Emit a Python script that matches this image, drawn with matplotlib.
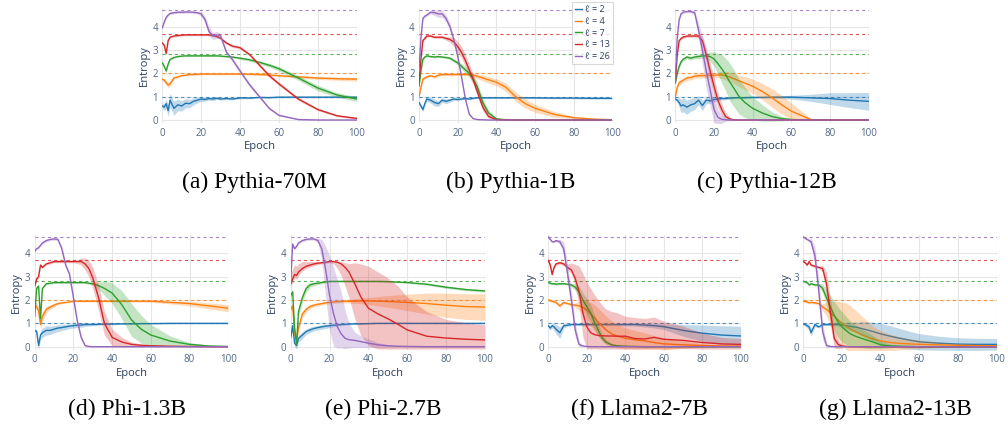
import numpy as np
import matplotlib
matplotlib.use('Agg')
import matplotlib.pyplot as plt

plt.rcParams['font.family'] = ['Open Sans', 'DejaVu Sans']

EPOCHS = [0, 1, 2, 3, 4, 6, 8, 10, 12, 14, 16, 18, 20, 22, 24, 26, 28, 30,
          33, 36, 40, 45, 50, 55, 60, 70, 80, 90, 100]
ELLS = [2, 4, 7, 13, 26]
# log2(l): entropy of a uniform guess
UNIFORM_ENTROPY = [1.00, 2.00, 2.81, 3.70, 4.70]
COLORS = ['#1f77b4', '#ff7f0e', '#2ca02c', '#d62728', '#9467bd']

# (a) Pythia-70M
P70M_MEAN = [
    [0.60, 0.55, 0.70, 0.40, 0.85, 0.50, 0.65, 0.60, 0.72, 0.70, 0.80, 0.85, 0.90, 0.88, 0.92, 0.90, 0.93, 0.90, 0.92, 0.90, 0.95, 0.94, 0.97, 0.96, 0.98, 0.98, 0.98, 0.98, 0.98],
    [1.75, 1.70, 1.60, 1.50, 1.55, 1.80, 1.85, 1.90, 1.92, 1.95, 1.95, 1.96, 1.97, 1.97, 1.97, 1.97, 1.97, 1.97, 1.97, 1.97, 1.97, 1.96, 1.95, 1.93, 1.90, 1.85, 1.80, 1.77, 1.75],
    [2.45, 2.30, 2.10, 2.40, 2.60, 2.68, 2.72, 2.74, 2.75, 2.75, 2.75, 2.75, 2.75, 2.75, 2.75, 2.75, 2.75, 2.74, 2.72, 2.70, 2.65, 2.58, 2.47, 2.35, 2.20, 1.80, 1.37, 1.07, 0.90],
    [3.30, 3.20, 2.85, 3.40, 3.55, 3.60, 3.62, 3.64, 3.65, 3.65, 3.65, 3.65, 3.65, 3.65, 3.65, 3.62, 3.58, 3.50, 3.30, 3.17, 3.10, 2.80, 2.35, 1.90, 1.55, 0.90, 0.45, 0.18, 0.07],
    [3.95, 4.20, 4.40, 4.50, 4.57, 4.60, 4.62, 4.62, 4.63, 4.63, 4.62, 4.60, 4.55, 4.30, 3.80, 3.60, 3.65, 3.60, 2.90, 2.60, 2.10, 1.50, 1.00, 0.50, 0.20, 0.02, 0.00, 0.00, 0.00],
]
P70M_SPREAD = [
    [0.10, 0.15, 0.20, 0.25, 0.30, 0.30, 0.25, 0.22, 0.20, 0.18, 0.15, 0.12, 0.10, 0.08, 0.07, 0.06, 0.05, 0.05, 0.05, 0.04, 0.04, 0.03, 0.03, 0.03, 0.03, 0.03, 0.03, 0.03, 0.03],
    [0.05, 0.08, 0.10, 0.12, 0.10, 0.06, 0.04, 0.03, 0.03, 0.03, 0.03, 0.03, 0.03, 0.03, 0.03, 0.03, 0.03, 0.03, 0.03, 0.03, 0.03, 0.03, 0.03, 0.03, 0.04, 0.05, 0.06, 0.07, 0.08],
    [0.04, 0.05, 0.06, 0.05, 0.04, 0.03, 0.03, 0.03, 0.03, 0.03, 0.03, 0.03, 0.03, 0.03, 0.03, 0.03, 0.03, 0.03, 0.04, 0.04, 0.05, 0.06, 0.07, 0.08, 0.09, 0.10, 0.12, 0.10, 0.10],
    [0.04, 0.05, 0.06, 0.05, 0.04, 0.04, 0.04, 0.04, 0.04, 0.04, 0.04, 0.04, 0.04, 0.04, 0.04, 0.04, 0.05, 0.05, 0.06, 0.06, 0.06, 0.06, 0.07, 0.07, 0.07, 0.06, 0.05, 0.04, 0.03],
    [0.05, 0.05, 0.05, 0.05, 0.05, 0.05, 0.05, 0.05, 0.05, 0.05, 0.05, 0.05, 0.10, 0.15, 0.20, 0.15, 0.15, 0.10, 0.10, 0.08, 0.08, 0.08, 0.06, 0.05, 0.03, 0.02, 0.01, 0.01, 0.01],
]

# (b) Pythia-1B
P1B_MEAN = [
    [0.75, 0.60, 0.45, 0.70, 0.90, 0.85, 0.75, 0.70, 0.85, 0.80, 0.85, 0.90, 0.88, 0.90, 0.92, 0.90, 0.93, 0.95, 0.95, 0.95, 0.95, 0.95, 0.95, 0.95, 0.95, 0.94, 0.94, 0.93, 0.93],
    [1.00, 1.40, 1.75, 1.80, 1.85, 1.90, 1.85, 1.92, 1.95, 1.95, 1.95, 1.95, 1.95, 1.95, 1.95, 1.95, 1.92, 1.88, 1.80, 1.72, 1.62, 1.40, 1.00, 0.70, 0.50, 0.24, 0.10, 0.04, 0.01],
    [1.45, 2.10, 2.60, 2.70, 2.75, 2.72, 2.70, 2.72, 2.70, 2.68, 2.65, 2.55, 2.45, 2.30, 2.15, 2.00, 1.75, 1.45, 0.75, 0.30, 0.05, 0.01, 0.00, 0.00, 0.00, 0.00, 0.00, 0.00, 0.00],
    [1.60, 2.60, 3.40, 3.50, 3.60, 3.60, 3.55, 3.55, 3.55, 3.50, 3.45, 3.35, 3.15, 2.90, 2.55, 2.15, 1.75, 1.25, 0.55, 0.15, 0.02, 0.00, 0.00, 0.00, 0.00, 0.00, 0.00, 0.00, 0.00],
    [2.15, 3.50, 4.35, 4.45, 4.50, 4.62, 4.60, 4.55, 4.55, 4.35, 4.00, 3.45, 2.75, 1.85, 0.90, 0.25, 0.06, 0.02, 0.01, 0.00, 0.00, 0.00, 0.00, 0.00, 0.00, 0.00, 0.00, 0.00, 0.00],
]
P1B_SPREAD = [
    [0.05, 0.08, 0.10, 0.10, 0.10, 0.12, 0.15, 0.12, 0.10, 0.10, 0.08, 0.06, 0.05, 0.04, 0.04, 0.03, 0.03, 0.03, 0.03, 0.03, 0.03, 0.03, 0.03, 0.03, 0.03, 0.03, 0.03, 0.04, 0.04],
    [0.05, 0.05, 0.05, 0.05, 0.05, 0.05, 0.05, 0.05, 0.05, 0.05, 0.05, 0.05, 0.05, 0.05, 0.06, 0.07, 0.08, 0.10, 0.12, 0.14, 0.15, 0.18, 0.20, 0.20, 0.17, 0.12, 0.06, 0.03, 0.02],
    [0.04, 0.04, 0.04, 0.04, 0.04, 0.04, 0.04, 0.04, 0.04, 0.04, 0.05, 0.07, 0.10, 0.12, 0.14, 0.15, 0.18, 0.20, 0.18, 0.12, 0.05, 0.02, 0.01, 0.01, 0.01, 0.01, 0.01, 0.01, 0.01],
    [0.05, 0.05, 0.05, 0.05, 0.05, 0.05, 0.05, 0.05, 0.05, 0.08, 0.12, 0.18, 0.22, 0.25, 0.25, 0.25, 0.22, 0.20, 0.15, 0.08, 0.02, 0.01, 0.01, 0.01, 0.01, 0.01, 0.01, 0.01, 0.01],
    [0.05, 0.05, 0.05, 0.05, 0.05, 0.08, 0.12, 0.15, 0.15, 0.15, 0.15, 0.12, 0.10, 0.08, 0.06, 0.04, 0.02, 0.01, 0.01, 0.01, 0.01, 0.01, 0.01, 0.01, 0.01, 0.01, 0.01, 0.01, 0.01],
]

# (c) Pythia-12B
P12B_MEAN = [
    [0.90, 0.85, 0.75, 0.60, 0.65, 0.55, 0.65, 0.70, 0.85, 0.62, 0.85, 0.82, 0.88, 0.90, 0.92, 0.92, 0.94, 0.95, 0.96, 0.96, 0.97, 0.97, 0.98, 0.98, 0.98, 0.95, 0.92, 0.85, 0.80],
    [1.00, 1.40, 1.60, 1.65, 1.70, 1.80, 1.82, 1.88, 1.90, 1.90, 1.90, 1.92, 1.92, 1.93, 1.93, 1.90, 1.85, 1.78, 1.68, 1.58, 1.45, 1.22, 0.95, 0.65, 0.38, 0.02, 0.00, 0.00, 0.00],
    [1.60, 2.00, 2.30, 2.50, 2.60, 2.70, 2.65, 2.70, 2.72, 2.75, 2.75, 2.72, 2.62, 2.42, 2.20, 1.95, 1.65, 1.40, 1.00, 0.75, 0.50, 0.30, 0.15, 0.06, 0.02, 0.00, 0.00, 0.00, 0.00],
    [1.60, 2.80, 3.40, 3.50, 3.55, 3.60, 3.60, 3.60, 3.60, 3.40, 2.80, 2.10, 1.45, 0.85, 0.45, 0.15, 0.05, 0.01, 0.00, 0.00, 0.00, 0.00, 0.00, 0.00, 0.00, 0.00, 0.00, 0.00, 0.00],
    [1.60, 3.50, 4.30, 4.55, 4.62, 4.65, 4.65, 4.60, 3.85, 3.00, 2.10, 1.30, 0.45, 0.12, 0.03, 0.01, 0.00, 0.00, 0.00, 0.00, 0.00, 0.00, 0.00, 0.00, 0.00, 0.00, 0.00, 0.00, 0.00],
]
P12B_SPREAD = [
    [0.05, 0.10, 0.20, 0.28, 0.30, 0.30, 0.28, 0.25, 0.20, 0.22, 0.15, 0.12, 0.10, 0.08, 0.06, 0.05, 0.05, 0.04, 0.04, 0.04, 0.04, 0.04, 0.05, 0.06, 0.08, 0.15, 0.25, 0.32, 0.38],
    [0.05, 0.08, 0.10, 0.10, 0.10, 0.10, 0.10, 0.10, 0.10, 0.10, 0.10, 0.10, 0.10, 0.12, 0.15, 0.18, 0.20, 0.22, 0.25, 0.28, 0.30, 0.35, 0.40, 0.40, 0.35, 0.05, 0.01, 0.00, 0.00],
    [0.08, 0.08, 0.08, 0.08, 0.08, 0.08, 0.08, 0.08, 0.10, 0.10, 0.12, 0.20, 0.30, 0.45, 0.60, 0.70, 0.80, 0.80, 0.75, 0.65, 0.50, 0.35, 0.20, 0.10, 0.04, 0.01, 0.00, 0.00, 0.00],
    [0.05, 0.05, 0.05, 0.05, 0.05, 0.05, 0.05, 0.05, 0.08, 0.20, 0.30, 0.35, 0.35, 0.30, 0.25, 0.15, 0.08, 0.03, 0.01, 0.00, 0.00, 0.00, 0.00, 0.00, 0.00, 0.00, 0.00, 0.00, 0.00],
    [0.05, 0.05, 0.05, 0.05, 0.05, 0.05, 0.05, 0.10, 0.30, 0.60, 0.75, 0.70, 0.55, 0.35, 0.18, 0.06, 0.02, 0.00, 0.00, 0.00, 0.00, 0.00, 0.00, 0.00, 0.00, 0.00, 0.00, 0.00, 0.00],
]

# (d) Phi-1.3B
PHI13_MEAN = [
    [0.70, 0.65, 0.05, 0.50, 0.60, 0.70, 0.70, 0.75, 0.80, 0.82, 0.85, 0.88, 0.90, 0.92, 0.93, 0.95, 0.95, 0.95, 0.96, 0.97, 0.97, 0.98, 0.98, 0.99, 0.99, 1.00, 1.00, 1.00, 1.00],
    [1.80, 1.70, 1.55, 0.95, 1.30, 1.60, 1.70, 1.78, 1.85, 1.88, 1.90, 1.92, 1.95, 1.95, 1.95, 1.95, 1.95, 1.95, 1.95, 1.95, 1.95, 1.95, 1.95, 1.95, 1.95, 1.90, 1.85, 1.75, 1.65],
    [1.30, 2.50, 2.60, 1.20, 2.50, 2.70, 2.72, 2.75, 2.75, 2.75, 2.75, 2.75, 2.75, 2.75, 2.75, 2.75, 2.72, 2.70, 2.62, 2.50, 2.30, 1.80, 1.15, 0.75, 0.50, 0.24, 0.10, 0.03, 0.01],
    [2.60, 2.90, 3.00, 3.50, 3.40, 3.55, 3.60, 3.65, 3.65, 3.65, 3.65, 3.65, 3.65, 3.65, 3.65, 3.55, 3.35, 2.95, 2.10, 1.00, 0.40, 0.20, 0.10, 0.06, 0.04, 0.02, 0.01, 0.00, 0.00],
    [4.10, 4.20, 4.25, 4.35, 4.45, 4.55, 4.60, 4.62, 4.60, 4.20, 3.50, 3.10, 2.10, 1.10, 0.40, 0.05, 0.01, 0.00, 0.00, 0.00, 0.00, 0.00, 0.00, 0.00, 0.00, 0.00, 0.00, 0.00, 0.00],
]
PHI13_SPREAD = [
    [0.05, 0.10, 0.15, 0.20, 0.20, 0.20, 0.18, 0.15, 0.15, 0.12, 0.12, 0.10, 0.10, 0.10, 0.10, 0.08, 0.06, 0.05, 0.04, 0.03, 0.03, 0.02, 0.02, 0.02, 0.02, 0.02, 0.02, 0.02, 0.02],
    [0.10, 0.15, 0.20, 0.20, 0.20, 0.15, 0.10, 0.08, 0.05, 0.04, 0.03, 0.03, 0.03, 0.03, 0.03, 0.03, 0.03, 0.03, 0.03, 0.03, 0.03, 0.03, 0.03, 0.03, 0.04, 0.06, 0.10, 0.13, 0.15],
    [0.04, 0.04, 0.04, 0.04, 0.04, 0.04, 0.04, 0.04, 0.04, 0.04, 0.04, 0.04, 0.04, 0.04, 0.04, 0.04, 0.05, 0.06, 0.15, 0.30, 0.45, 0.60, 0.70, 0.60, 0.45, 0.22, 0.08, 0.03, 0.01],
    [0.05, 0.05, 0.05, 0.05, 0.05, 0.05, 0.05, 0.05, 0.05, 0.05, 0.05, 0.05, 0.05, 0.08, 0.15, 0.25, 0.35, 0.45, 0.55, 0.50, 0.35, 0.20, 0.10, 0.06, 0.04, 0.02, 0.01, 0.01, 0.01],
    [0.05, 0.05, 0.05, 0.05, 0.05, 0.05, 0.05, 0.05, 0.05, 0.10, 0.10, 0.10, 0.10, 0.10, 0.08, 0.05, 0.02, 0.01, 0.01, 0.01, 0.01, 0.01, 0.01, 0.01, 0.01, 0.01, 0.01, 0.01, 0.01],
]

# (e) Phi-2.7B (upper and lower band offsets differ)
PHI27_MEAN = [
    [0.40, 0.90, 0.15, 0.05, 0.35, 0.50, 0.65, 0.72, 0.78, 0.82, 0.85, 0.88, 0.90, 0.92, 0.93, 0.95, 0.96, 0.97, 0.98, 0.98, 0.99, 1.00, 1.00, 1.00, 1.00, 1.00, 1.00, 1.00, 1.00],
    [1.60, 1.75, 0.60, 0.30, 0.80, 1.40, 1.60, 1.72, 1.78, 1.82, 1.85, 1.88, 1.90, 1.92, 1.93, 1.94, 1.95, 1.95, 1.95, 1.96, 1.96, 1.95, 1.94, 1.92, 1.90, 1.85, 1.78, 1.72, 1.70],
    [2.20, 2.35, 0.80, 0.10, 1.50, 2.10, 2.50, 2.65, 2.70, 2.72, 2.75, 2.78, 2.80, 2.80, 2.80, 2.80, 2.80, 2.80, 2.80, 2.80, 2.80, 2.80, 2.79, 2.77, 2.75, 2.68, 2.55, 2.45, 2.39],
    [2.70, 2.90, 3.10, 3.05, 3.20, 3.35, 3.45, 3.50, 3.55, 3.58, 3.60, 3.62, 3.65, 3.65, 3.62, 3.55, 3.40, 3.20, 2.70, 2.15, 1.65, 1.40, 1.20, 0.97, 0.72, 0.45, 0.37, 0.32, 0.29],
    [2.80, 4.40, 4.20, 4.30, 4.45, 4.55, 4.60, 4.62, 4.62, 4.55, 4.20, 3.30, 2.20, 1.43, 0.85, 0.55, 0.36, 0.30, 0.27, 0.22, 0.15, 0.08, 0.04, 0.02, 0.01, 0.00, 0.00, 0.00, 0.00],
]
PHI27_UP = [
    [0.10, 0.15, 0.15, 0.15, 0.15, 0.15, 0.12, 0.12, 0.10, 0.10, 0.10, 0.10, 0.08, 0.06, 0.05, 0.04, 0.03, 0.03, 0.02, 0.02, 0.02, 0.02, 0.02, 0.02, 0.02, 0.02, 0.02, 0.02, 0.02],
    [0.08, 0.10, 0.20, 0.20, 0.20, 0.15, 0.12, 0.10, 0.08, 0.07, 0.06, 0.06, 0.06, 0.06, 0.06, 0.06, 0.07, 0.08, 0.10, 0.12, 0.15, 0.20, 0.25, 0.30, 0.35, 0.45, 0.52, 0.55, 0.57],
    [0.10, 0.10, 0.15, 0.15, 0.20, 0.20, 0.15, 0.10, 0.08, 0.06, 0.05, 0.04, 0.03, 0.03, 0.03, 0.03, 0.03, 0.03, 0.03, 0.03, 0.03, 0.03, 0.03, 0.03, 0.03, 0.04, 0.05, 0.05, 0.05],
    [0.40, 0.45, 0.40, 0.40, 0.35, 0.30, 0.20, 0.15, 0.10, 0.08, 0.06, 0.05, 0.05, 0.05, 0.06, 0.10, 0.20, 0.35, 0.90, 1.40, 1.80, 1.80, 1.75, 1.65, 1.40, 1.05, 0.80, 0.70, 0.65],
    [0.05, 0.05, 0.05, 0.05, 0.05, 0.05, 0.05, 0.05, 0.05, 0.10, 0.40, 1.00, 1.70, 2.00, 2.00, 1.80, 1.20, 0.70, 0.35, 0.25, 0.18, 0.10, 0.05, 0.03, 0.01, 0.01, 0.01, 0.01, 0.01],
]
PHI27_DN = [
    PHI27_UP[0],
    PHI27_UP[1],
    PHI27_UP[2],
    [0.10, 0.15, 0.15, 0.15, 0.15, 0.10, 0.10, 0.08, 0.08, 0.06, 0.05, 0.05, 0.05, 0.10, 0.25, 0.50, 0.80, 1.10, 1.50, 1.65, 1.60, 1.50, 1.30, 1.07, 0.82, 0.55, 0.47, 0.42, 0.39],
    [0.05, 0.05, 0.05, 0.05, 0.05, 0.05, 0.05, 0.05, 0.05, 0.10, 0.50, 1.20, 1.50, 1.40, 0.90, 0.60, 0.45, 0.35, 0.30, 0.25, 0.18, 0.10, 0.05, 0.03, 0.01, 0.01, 0.01, 0.01, 0.01],
]

# (f) Llama2-7B
L7B_MEAN = [
    [0.90, 0.80, 0.90, 0.85, 0.75, 0.60, 0.90, 0.92, 0.95, 0.95, 0.95, 0.95, 0.95, 0.95, 0.95, 0.95, 0.95, 0.95, 0.95, 0.95, 0.95, 0.95, 0.93, 0.90, 0.86, 0.70, 0.58, 0.50, 0.46],
    [2.00, 1.98, 1.95, 1.92, 1.90, 1.75, 1.90, 1.85, 1.80, 1.78, 1.75, 1.68, 1.57, 1.40, 1.25, 1.05, 0.88, 0.72, 0.55, 0.45, 0.36, 0.30, 0.25, 0.18, 0.12, 0.08, 0.05, 0.03, 0.02],
    [2.75, 2.72, 2.70, 2.70, 2.68, 2.70, 2.70, 2.68, 2.65, 2.55, 2.35, 2.00, 1.72, 1.45, 1.05, 0.70, 0.38, 0.20, 0.08, 0.04, 0.02, 0.01, 0.00, 0.00, 0.00, 0.00, 0.00, 0.00, 0.00],
    [3.70, 3.50, 3.10, 3.40, 3.55, 3.60, 3.55, 3.40, 3.29, 2.93, 2.36, 1.43, 0.86, 0.60, 0.52, 0.48, 0.47, 0.46, 0.46, 0.45, 0.45, 0.35, 0.33, 0.40, 0.32, 0.27, 0.18, 0.12, 0.10],
    [4.70, 4.60, 4.50, 4.50, 4.55, 4.50, 4.20, 3.14, 2.00, 0.71, 0.10, 0.03, 0.01, 0.00, 0.00, 0.00, 0.00, 0.00, 0.00, 0.00, 0.00, 0.00, 0.00, 0.00, 0.00, 0.00, 0.00, 0.00, 0.00],
]
L7B_UP = [
    [0.05, 0.10, 0.10, 0.15, 0.20, 0.25, 0.10, 0.05, 0.05, 0.05, 0.05, 0.05, 0.05, 0.05, 0.05, 0.05, 0.05, 0.05, 0.05, 0.05, 0.05, 0.06, 0.08, 0.10, 0.12, 0.25, 0.35, 0.40, 0.42],
    [0.05, 0.05, 0.05, 0.05, 0.05, 0.08, 0.05, 0.05, 0.05, 0.10, 0.20, 0.30, 0.40, 0.50, 0.55, 0.60, 0.60, 0.60, 0.55, 0.50, 0.45, 0.40, 0.35, 0.30, 0.25, 0.15, 0.08, 0.04, 0.02],
    [0.04, 0.04, 0.04, 0.04, 0.04, 0.04, 0.04, 0.04, 0.08, 0.15, 0.25, 0.30, 0.35, 0.35, 0.30, 0.25, 0.15, 0.10, 0.05, 0.02, 0.02, 0.01, 0.01, 0.01, 0.01, 0.01, 0.01, 0.01, 0.01],
    [0.08, 0.10, 0.10, 0.08, 0.06, 0.06, 0.08, 0.15, 0.30, 0.60, 1.10, 1.70, 1.90, 1.90, 1.70, 1.52, 1.30, 1.15, 1.05, 1.00, 0.85, 0.90, 0.88, 0.87, 0.77, 0.62, 0.40, 0.28, 0.25],
    [0.05, 0.05, 0.05, 0.05, 0.05, 0.10, 0.30, 0.40, 0.40, 0.30, 0.10, 0.03, 0.01, 0.00, 0.00, 0.00, 0.00, 0.00, 0.00, 0.00, 0.00, 0.00, 0.00, 0.00, 0.00, 0.00, 0.00, 0.00, 0.00],
]
L7B_DN = [
    L7B_UP[0],
    L7B_UP[1],
    L7B_UP[2],
    [0.08, 0.10, 0.10, 0.08, 0.06, 0.06, 0.08, 0.10, 0.15, 0.30, 0.60, 1.00, 0.95, 0.70, 0.60, 0.58, 0.57, 0.56, 0.56, 0.55, 0.55, 0.45, 0.43, 0.48, 0.42, 0.35, 0.28, 0.22, 0.20],
    L7B_UP[4],
]

# (g) Llama2-13B
L13B_MEAN = [
    [0.97, 0.95, 0.90, 0.85, 0.60, 0.95, 0.85, 0.95, 0.95, 0.95, 0.95, 0.95, 0.93, 0.90, 0.88, 0.85, 0.83, 0.78, 0.72, 0.65, 0.55, 0.45, 0.36, 0.28, 0.21, 0.15, 0.11, 0.10, 0.10],
    [1.95, 1.94, 1.92, 1.88, 1.90, 1.88, 1.85, 1.70, 1.60, 1.45, 1.30, 1.15, 1.00, 0.88, 0.78, 0.68, 0.60, 0.52, 0.42, 0.33, 0.25, 0.18, 0.14, 0.12, 0.10, 0.08, 0.06, 0.05, 0.04],
    [2.80, 2.78, 2.75, 2.65, 2.70, 2.65, 2.65, 2.50, 2.10, 1.70, 1.35, 1.05, 0.85, 0.70, 0.57, 0.48, 0.42, 0.36, 0.28, 0.20, 0.08, 0.03, 0.02, 0.01, 0.00, 0.00, 0.00, 0.00, 0.00],
    [3.65, 3.60, 3.50, 3.65, 3.50, 3.45, 3.40, 3.35, 2.70, 1.50, 0.35, 0.10, 0.03, 0.01, 0.00, 0.00, 0.00, 0.00, 0.00, 0.00, 0.00, 0.00, 0.00, 0.00, 0.00, 0.00, 0.00, 0.00, 0.00],
    [4.70, 4.65, 4.60, 4.55, 4.50, 3.90, 2.40, 0.65, 0.05, 0.01, 0.00, 0.00, 0.00, 0.00, 0.00, 0.00, 0.00, 0.00, 0.00, 0.00, 0.00, 0.00, 0.00, 0.00, 0.00, 0.00, 0.00, 0.00, 0.00],
]
L13B_SPREAD = [
    [0.05, 0.08, 0.10, 0.12, 0.15, 0.10, 0.05, 0.05, 0.05, 0.05, 0.05, 0.08, 0.12, 0.15, 0.18, 0.20, 0.22, 0.30, 0.35, 0.40, 0.45, 0.45, 0.42, 0.38, 0.35, 0.30, 0.27, 0.26, 0.25],
    [0.05, 0.05, 0.05, 0.05, 0.05, 0.05, 0.05, 0.15, 0.30, 0.50, 0.65, 0.80, 0.90, 1.00, 1.00, 0.95, 0.90, 0.80, 0.70, 0.55, 0.45, 0.35, 0.28, 0.22, 0.18, 0.12, 0.06, 0.04, 0.03],
    [0.05, 0.05, 0.05, 0.05, 0.05, 0.05, 0.05, 0.20, 0.35, 0.50, 0.60, 0.65, 0.65, 0.60, 0.55, 0.50, 0.45, 0.40, 0.35, 0.28, 0.15, 0.08, 0.04, 0.01, 0.01, 0.01, 0.01, 0.01, 0.01],
    [0.05, 0.05, 0.05, 0.05, 0.05, 0.05, 0.05, 0.15, 0.50, 0.60, 0.40, 0.20, 0.08, 0.03, 0.01, 0.01, 0.01, 0.01, 0.01, 0.01, 0.01, 0.01, 0.01, 0.01, 0.01, 0.01, 0.01, 0.01, 0.01],
    [0.05, 0.05, 0.05, 0.05, 0.15, 0.40, 0.50, 0.35, 0.10, 0.02, 0.00, 0.00, 0.00, 0.00, 0.00, 0.00, 0.00, 0.00, 0.00, 0.00, 0.00, 0.00, 0.00, 0.00, 0.00, 0.00, 0.00, 0.00, 0.00],
]

CAPTIONS = ['(a) Pythia-70M', '(b) Pythia-1B', '(c) Pythia-12B', '(d) Phi-1.3B',
            '(e) Phi-2.7B', '(f) Llama2-7B', '(g) Llama2-13B']
MEANS = [P70M_MEAN, P1B_MEAN, P12B_MEAN, PHI13_MEAN, PHI27_MEAN, L7B_MEAN, L13B_MEAN]
UPS = [P70M_SPREAD, P1B_SPREAD, P12B_SPREAD, PHI13_SPREAD, PHI27_UP, L7B_UP, L13B_SPREAD]
DNS = [P70M_SPREAD, P1B_SPREAD, P12B_SPREAD, PHI13_SPREAD, PHI27_DN, L7B_DN, L13B_SPREAD]

# layout in pixels: (x of epoch 0, x of epoch 100, top, bottom)
W, H = 1008, 428
BOXES = [(162.3, 356.7, 8.5, 122.8), (419.0, 612.3, 8.5, 122.8), (675.3, 868.7, 8.5, 122.8),
         (34.7, 228.3, 235.2, 349.5), (290.7, 485.0, 235.2, 349.5),
         (548.3, 740.7, 235.2, 349.5), (803.3, 996.7, 235.2, 349.5)]
CAP_Y = [182, 182, 182, 409, 409, 409, 409]

TICK_COLOR = '#506784'
TITLE_COLOR = '#2a3f5f'

fig = plt.figure(figsize=(W / 100, H / 100), dpi=100)

legend_handles = None
for k in range(7):
    x0, x1, y0, y1 = BOXES[k]
    ax = fig.add_axes([x0 / W, 1 - y1 / H, (x1 - x0) / W, (y1 - y0) / H])
    ax.set_xlim(0, 100)
    ax.set_ylim(-0.12, 4.78)
    for sp in ax.spines.values():
        sp.set_visible(False)
    ax.set_xticks(range(0, 101, 20))
    ax.set_yticks(range(5))
    ax.grid(color='#e6e6e6', lw=0.8)
    ax.set_axisbelow(True)
    ax.tick_params(length=0, labelsize=7, colors=TICK_COLOR)
    ax.tick_params(axis='x', pad=3.6)
    ax.tick_params(axis='y', pad=3.0)

    for i in range(5):
        ax.axhline(UNIFORM_ENTROPY[i], color=COLORS[i], lw=0.8, alpha=0.8,
                   dashes=(2.8, 2.8), zorder=1.5)

    handles = []
    for i in range(5):
        m = np.array(MEANS[k][i])
        up = np.array(UPS[k][i])
        dn = np.array(DNS[k][i])
        ax.fill_between(EPOCHS, m - dn, m + up, color=COLORS[i], alpha=0.28,
                        lw=0, zorder=2 + i)
        ln, = ax.plot(EPOCHS, m, color=COLORS[i], lw=1.0, zorder=2.5 + i,
                      label='ℓ = %d' % ELLS[i])
        handles.append(ln)
    if k == 1:
        legend_handles = handles
        leg_ax = ax

    wpx, hpx = x1 - x0, y1 - y0
    ax.text(0.5, -24.0 / hpx, 'Epoch', transform=ax.transAxes, ha='center',
            va='center', fontsize=8, color=TITLE_COLOR)
    ax.text(-18.0 / wpx, 0.5, 'Entropy', transform=ax.transAxes, ha='center',
            va='center', rotation=90, fontsize=8, color=TITLE_COLOR)

    # caption sits a few pixels left of the plot centre
    cx = (x0 + x1) / 2 - 5
    fig.text(cx / W, 1 - CAP_Y[k] / H, CAPTIONS[k], ha='center', va='center',
             fontsize=17, family='Liberation Serif', color='black')

leg = leg_ax.legend(handles=legend_handles, loc='upper right',
                    bbox_to_anchor=(613 / W, 1 - 2 / H), bbox_transform=fig.transFigure,
                    fontsize=6.5, frameon=True, fancybox=False, borderaxespad=0,
                    borderpad=0.35, labelspacing=0.3, handlelength=0.8,
                    handletextpad=0.3, labelcolor=TITLE_COLOR)
leg.get_frame().set_edgecolor('#d0d0d0')
leg.get_frame().set_linewidth(0.8)
leg.set_zorder(20)

fig.savefig('out.png', dpi=100, facecolor='white')
